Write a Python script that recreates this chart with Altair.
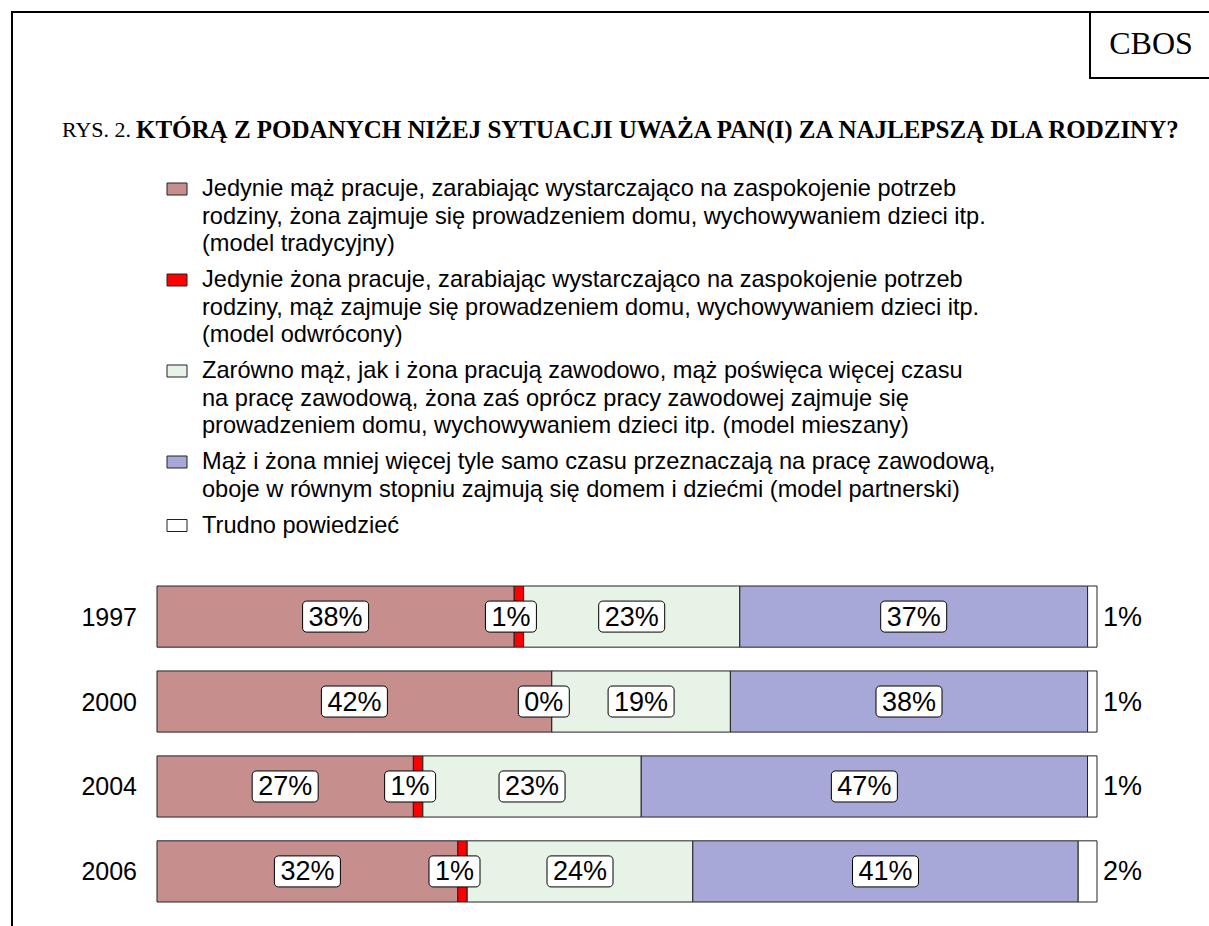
import altair as alt
import pandas as pd

# ---- data ----
years = ["1997", "2000", "2004", "2006"]
categories = ["tradycyjny", "odwrócony", "mieszany", "partnerski", "trudno"]
tradycyjny = [38, 42, 27, 32]
odwrocony = [1, 0, 1, 1]
mieszany = [23, 19, 23, 24]
partnerski = [37, 38, 47, 41]
trudno = [1, 1, 1, 2]

legend_texts = [
    ["Jedynie mąż pracuje, zarabiając wystarczająco na zaspokojenie potrzeb",
     "rodziny, żona zajmuje się prowadzeniem domu, wychowywaniem dzieci itp.",
     "(model tradycyjny)"],
    ["Jedynie żona pracuje, zarabiając wystarczająco na zaspokojenie potrzeb",
     "rodziny, mąż zajmuje się prowadzeniem domu, wychowywaniem dzieci itp.",
     "(model odwrócony)"],
    ["Zarówno mąż, jak i żona pracują zawodowo, mąż poświęca więcej czasu",
     "na pracę zawodową, żona zaś oprócz pracy zawodowej zajmuje się",
     "prowadzeniem domu, wychowywaniem dzieci itp. (model mieszany)"],
    ["Mąż i żona mniej więcej tyle samo czasu przeznaczają na pracę zawodową,",
     "oboje w równym stopniu zajmują się domem i dziećmi (model partnerski)"],
    ["Trudno powiedzieć"],
]

title_prefix = "RYS. 2."
title_main = "KTÓRĄ Z PODANYCH NIŻEJ SYTUACJI UWAŻA PAN(I) ZA NAJLEPSZĄ DLA RODZINY?"
source_label = "CBOS"

colors = ["#c78e8e", "#ff0000", "#e6f3e6", "#a8a8d8", "#ffffff"]

SANS = "Liberation Sans"
SERIF = "Liberation Serif"

# ---- build tables ----
series = [tradycyjny, odwrocony, mieszany, partnerski, trudno]
rows = []
for yi, yr in enumerate(years):
    vals = [s[yi] for s in series]
    tot = sum(vals)
    cum = 0
    for ci, c in enumerate(categories):
        v = vals[ci]
        start = cum / tot * 100
        cum += v
        end = cum / tot * 100
        rows.append(dict(year=yr, cat=c, order=ci, value=v, start=start,
                         end=end, mid=(start + end) / 2, label=f"{v}%"))
df = pd.DataFrame(rows)

leg_rows = []
sym_rows = []
LH = 27.5
GAP = 8.5
ystart = 189
for k, lines in enumerate(legend_texts):
    sym_rows.append(dict(cat=categories[k], ly=ystart))
    for j, t in enumerate(lines):
        leg_rows.append(dict(text=t, ly=ystart + j * LH))
    ystart += len(lines) * LH + GAP
leg_df = pd.DataFrame(leg_rows)
sym_df = pd.DataFrame(sym_rows)

xscale = alt.Scale(domain=[0, 100], range=[157, 1097])
yscale = alt.Scale(type="band", domain=years, range=[586, 902],
                   paddingInner=0.28, paddingOuter=0)
cscale = alt.Scale(domain=categories, range=colors)

base = alt.Chart(df)

bars = base.mark_bar(stroke="#222222", strokeWidth=1).encode(
    x=alt.X("start:Q", scale=xscale, axis=None),
    x2="end:Q",
    y=alt.Y("year:N", scale=yscale, axis=None),
    color=alt.Color("cat:N", scale=cscale, legend=None),
    order="order:Q",
)

# label anchor: segment centre, the narrow red segment's label sits a bit to the left
inside = base.transform_filter(alt.datum.cat != "trudno").transform_calculate(
    lx="datum.mid - (datum.cat == 'odwrócony' ? 0.85 : 0)"
)

boxes = inside.transform_calculate(
    hw="(length(datum.label) > 2 ? 33 : 25.5) / 9.4",
).transform_calculate(
    xlo="datum.lx - datum.hw", xhi="datum.lx + datum.hw"
).mark_bar(size=31, cornerRadius=4, fill="white", stroke="black", strokeWidth=1).encode(
    x=alt.X("xlo:Q", scale=xscale, axis=None),
    x2="xhi:Q",
    y=alt.Y("year:N", scale=yscale, axis=None),
)

labels = inside.mark_text(font=SANS, fontSize=27, color="black", baseline="middle", dy=1).encode(
    x=alt.X("lx:Q", scale=xscale, axis=None),
    y=alt.Y("year:N", scale=yscale, axis=None),
    text="label:N",
)

outside = base.transform_filter(alt.datum.cat == "trudno").mark_text(
    font=SANS, fontSize=27, color="black", align="left", baseline="middle", dx=6, dy=1
).encode(
    x=alt.X("end:Q", scale=xscale, axis=None),
    y=alt.Y("year:N", scale=yscale, axis=None),
    text="label:N",
)

year_labels = alt.Chart(pd.DataFrame({"year": years})).mark_text(
    font=SANS, fontSize=25, color="black", align="right", baseline="middle", dy=1
).encode(
    x=alt.value(137),
    y=alt.Y("year:N", scale=yscale, axis=None),
    text="year:N",
)

legend_text = alt.Chart(leg_df).mark_text(
    font=SANS, fontSize=23.6, color="black", align="left", baseline="middle"
).encode(
    x=alt.value(202),
    y=alt.Y("ly:Q", scale=None),
    text="text:N",
)

legend_sym = alt.Chart(sym_df).transform_calculate(
    top="datum.ly - 6", bot="datum.ly + 6"
).mark_rect(stroke="#222222", strokeWidth=1).encode(
    x=alt.value(167),
    x2=alt.value(187),
    y=alt.Y("top:Q", scale=None),
    y2="bot:Q",
    color=alt.Color("cat:N", scale=cscale, legend=None),
)

one = pd.DataFrame({"a": [0]})
frame_left = alt.Chart(one).mark_rule(color="black", strokeWidth=2).encode(
    x=alt.value(12), y=alt.value(12), y2=alt.value(926))
frame_top = alt.Chart(one).mark_rule(color="black", strokeWidth=2).encode(
    x=alt.value(11), x2=alt.value(1209), y=alt.value(12))
cbos_left = alt.Chart(one).mark_rule(color="black", strokeWidth=2).encode(
    x=alt.value(1090), y=alt.value(12), y2=alt.value(78))
cbos_bottom = alt.Chart(one).mark_rule(color="black", strokeWidth=2).encode(
    x=alt.value(1089), x2=alt.value(1209), y=alt.value(78))
cbos_text = alt.Chart(pd.DataFrame({"t": [source_label]})).mark_text(
    font=SERIF, fontSize=32, color="black", align="center", baseline="middle"
).encode(x=alt.value(1151), y=alt.value(44), text="t:N")

title_a = alt.Chart(pd.DataFrame({"t": [title_prefix]})).mark_text(
    font=SERIF, fontSize=22, color="black", align="left", baseline="middle"
).encode(x=alt.value(62), y=alt.value(130), text="t:N")
title_b = alt.Chart(pd.DataFrame({"t": [title_main]})).mark_text(
    font=SERIF, fontSize=25, fontWeight="bold", color="black", align="left", baseline="middle"
).encode(x=alt.value(136), y=alt.value(130), text="t:N")

chart = alt.layer(
    bars, boxes, labels, outside, year_labels,
    legend_sym, legend_text,
    frame_left, frame_top, cbos_left, cbos_bottom, cbos_text,
    title_a, title_b,
).resolve_scale(
    x="independent", y="independent"
).properties(
    width=1209, height=926, padding=0, autosize="none", background="white"
).configure_view(stroke=None)

chart.save("out.html", embed_options={"renderer": "svg", "actions": False})
